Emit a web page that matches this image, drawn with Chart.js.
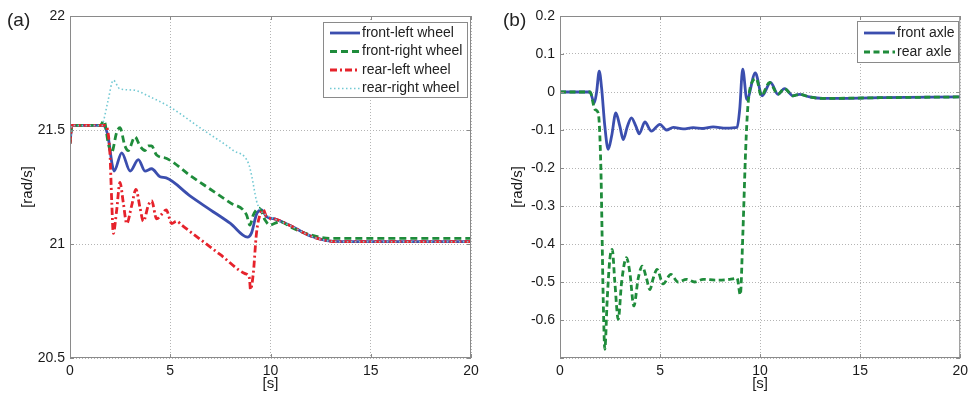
<!DOCTYPE html>
<html>
<head>
<meta charset="utf-8">
<script src="https://cdn.jsdelivr.net/npm/chart.js@4.4.0/dist/chart.umd.min.js"></script>
<style>
    html, body { margin: 0; padding: 0; background: #fff; }
    #wrap { position: relative; width: 973px; height: 393px; }
    .panel { position: absolute; top: 0; height: 393px; }
</style>
</head>
<body>
<div id="wrap">
    <div class="panel" style="left:0;width:490px"><canvas id="chartA" width="490" height="393"></canvas></div>
    <div class="panel" style="left:490px;width:483px"><canvas id="chartB" width="483" height="393"></canvas></div>
</div>
<script>
// Données
const xTicks = [0, 5, 10, 15, 20];
const yTicksA = [20.5, 21, 21.5, 22];
const yTicksB = [-0.7, -0.6, -0.5, -0.4, -0.3, -0.2, -0.1, 0, 0.1, 0.2];

// (a) vitesses des roues
const flTime = [0, 0.1, 1.65, 1.9, 2.1, 2.2, 2.58, 3.0, 3.41, 3.74, 4.07, 4.49, 4.8, 6.0, 7.0, 8.0, 8.85, 9.06, 9.3, 9.55, 9.8, 10.2, 11, 12, 12.8, 13.5, 20];
const flVals = [21.44, 21.52, 21.52, 21.47, 21.35, 21.32, 21.40, 21.32, 21.37, 21.32, 21.33, 21.295, 21.29, 21.21, 21.15, 21.09, 21.03, 21.05, 21.13, 21.15, 21.12, 21.11, 21.08, 21.035, 21.015, 21.01, 21.01];

const frTime = [0, 0.1, 1.5, 1.7, 1.91, 2.07, 2.33, 2.49, 2.74, 2.9, 3.24, 3.49, 3.74, 3.9, 4.07, 4.32, 4.82, 6.0, 7.0, 8.0, 8.81, 8.97, 9.14, 9.44, 9.73, 9.97, 10.47, 11.1, 12, 13, 20];
const frVals = [21.44, 21.52, 21.52, 21.54, 21.44, 21.40, 21.49, 21.51, 21.43, 21.41, 21.47, 21.43, 21.41, 21.43, 21.43, 21.39, 21.375, 21.30, 21.24, 21.18, 21.127, 21.083, 21.127, 21.157, 21.105, 21.083, 21.098, 21.07, 21.04, 21.025, 21.025];

const rlTime = [0, 0.1, 1.75, 1.99, 2.08, 2.16, 2.33, 2.49, 2.66, 2.83, 3.08, 3.29, 3.49, 3.66, 3.91, 4.07, 4.32, 4.57, 4.8, 5.07, 5.32, 5.57, 6.5, 7.5, 8.73, 8.95, 9.0, 9.14, 9.3, 9.48, 9.64, 9.8, 10.2, 11, 12, 12.8, 13.5, 20];
const rlVals = [21.44, 21.52, 21.52, 21.40, 21.19, 21.047, 21.15, 21.27, 21.18, 21.09, 21.17, 21.24, 21.16, 21.10, 21.17, 21.19, 21.11, 21.13, 21.15, 21.09, 21.10, 21.083, 21.02, 20.953, 20.87, 20.85, 20.80, 20.87, 21.047, 21.13, 21.15, 21.12, 21.11, 21.08, 21.035, 21.015, 21.01, 21.01];

const rrTime = [0, 0.1, 1.6, 1.66, 1.9, 2.16, 2.49, 3.16, 4.0, 5.0, 6.48, 8.15, 8.9, 9.06, 9.3, 9.48, 9.73, 10.2, 11, 12, 12.8, 13.5, 20];
const rrVals = [21.44, 21.52, 21.52, 21.535, 21.63, 21.718, 21.68, 21.675, 21.645, 21.60, 21.51, 21.41, 21.354, 21.30, 21.19, 21.15, 21.13, 21.11, 21.08, 21.035, 21.015, 21.01, 21.01];

// (b) essieux
const faTime = [0, 1.5, 1.71, 1.83, 1.96, 2.08, 2.24, 2.41, 2.58, 2.79, 2.99, 3.16, 3.37, 3.57, 3.79, 3.96, 4.24, 4.57, 4.99, 5.32, 5.66, 6.15, 6.65, 7.15, 7.65, 8.31, 8.85, 8.98, 9.13, 9.34, 9.76, 10.1, 10.52, 10.89, 11.22, 11.64, 11.97, 12.47, 13.13, 16, 20];
const faVals = [0, 0, -0.029, 0, 0.055, 0.01, -0.09, -0.151, -0.116, -0.055, -0.09, -0.125, -0.09, -0.068, -0.09, -0.11, -0.079, -0.103, -0.085, -0.1, -0.093, -0.097, -0.094, -0.096, -0.092, -0.095, -0.093, -0.046, 0.06, -0.02, 0.05, -0.01, 0.025, -0.006, 0.009, -0.01, -0.006, -0.013, -0.017, -0.015, -0.013];

const raTime = [0, 1.5, 1.75, 1.91, 2.04, 2.16, 2.24, 2.36, 2.49, 2.61, 2.74, 2.91, 3.08, 3.32, 3.49, 3.69, 3.91, 4.11, 4.32, 4.49, 4.66, 4.85, 5.15, 5.54, 5.9, 6.32, 6.73, 7.15, 7.81, 8.48, 8.85, 9.01, 9.14, 9.28, 9.39, 9.64, 9.81, 10.06, 10.47, 10.89, 11.22, 11.64, 11.97, 12.47, 13.13, 16, 20];
const raVals = [0, 0, -0.046, -0.055, -0.195, -0.545, -0.677, -0.545, -0.44, -0.414, -0.5, -0.598, -0.5, -0.436, -0.475, -0.563, -0.49, -0.458, -0.49, -0.52, -0.49, -0.467, -0.505, -0.48, -0.5, -0.493, -0.5, -0.493, -0.495, -0.493, -0.49, -0.534, -0.37, -0.15, -0.037, 0.03, 0.035, -0.01, 0.025, -0.006, 0.009, -0.01, -0.006, -0.013, -0.017, -0.015, -0.013];

const FONT = '"Liberation Sans", Arial, Helvetica, sans-serif';
const BLUE = '#3b4eae';
const GREEN = '#1f8c3b';
const RED = '#e6222b';
const CYAN = '#72c9d3';

function toPoints(times, vals) {
    return times.map((t, i) => ({ x: t, y: vals[i] }));
}

function fmt(v) {
    return String(parseFloat(v.toFixed(2)));
}

// Cadre, petites graduations, légende et étiquette du panneau
const framePlugin = {
    id: 'frame',
    afterDatasetsDraw(chart, args, opts) {
        const { ctx, chartArea: a, scales } = chart;
        ctx.save();
        ctx.strokeStyle = '#8a8a8a';
        ctx.lineWidth = 1;
        ctx.setLineDash([]);
        ctx.strokeRect(a.left + 0.5, a.top + 0.5, a.right - a.left - 1, a.bottom - a.top - 1);
        ctx.beginPath();
        scales.x.ticks.forEach(t => {
            const px = Math.round(scales.x.getPixelForValue(t.value)) + 0.5;
            ctx.moveTo(px, a.bottom); ctx.lineTo(px, a.bottom - 4);
            ctx.moveTo(px, a.top); ctx.lineTo(px, a.top + 4);
        });
        scales.y.ticks.forEach(t => {
            const py = Math.round(scales.y.getPixelForValue(t.value)) + 0.5;
            ctx.moveTo(a.left, py); ctx.lineTo(a.left + 4, py);
            ctx.moveTo(a.right, py); ctx.lineTo(a.right - 4, py);
        });
        ctx.stroke();

        // légende
        const L = opts.legend;
        ctx.fillStyle = '#fff';
        ctx.fillRect(L.left, L.top, L.width, L.height);
        ctx.strokeStyle = '#8a8a8a';
        ctx.strokeRect(L.left + 0.5, L.top + 0.5, L.width - 1, L.height - 1);
        ctx.font = '14px ' + FONT;
        ctx.textBaseline = 'middle';
        ctx.textAlign = 'left';
        chart.data.datasets.forEach((ds, i) => {
            const y = L.top + L.firstRow + i * L.rowH;
            ctx.strokeStyle = ds.borderColor;
            ctx.lineWidth = ds.borderWidth;
            ctx.setLineDash(ds.borderDash || []);
            ctx.beginPath();
            ctx.moveTo(L.left + 7, y);
            ctx.lineTo(L.left + 7 + L.sample, y);
            ctx.stroke();
            ctx.fillStyle = '#222';
            ctx.fillText(ds.label, L.left + 9 + L.sample, y);
        });

        // étiquette (a)/(b)
        ctx.font = '19px ' + FONT;
        ctx.fillStyle = '#222';
        ctx.textBaseline = 'middle';
        ctx.fillText(opts.tag, opts.tagX, 21);
        ctx.restore();
    }
};

function axisOptions(yMin, yMax, hideMin) {
    return {
        x: {
            type: 'linear',
            min: 0, max: 20,
            afterFit: s => { s.height = 35; },
            afterBuildTicks: s => { s.ticks = xTicks.map(v => ({ value: v })); },
            grid: { color: '#b4b4b4', lineWidth: 1, drawTicks: false },
            border: { display: false, dash: [1, 2] },
            ticks: { color: '#1a1a1a', font: { family: FONT, size: 14 }, padding: 5, maxRotation: 0, autoSkip: false, callback: v => fmt(v) },
            title: { display: true, text: '[s]', color: '#1a1a1a', font: { family: FONT, size: 15 }, padding: { top: 0, bottom: 0 } }
        },
        y: {
            type: 'linear',
            min: yMin, max: yMax,
            afterFit: s => { s.width = 70; },
            grid: { color: '#b4b4b4', lineWidth: 1, drawTicks: false },
            border: { display: false, dash: [1, 2] },
            ticks: {
                color: '#1a1a1a', font: { family: FONT, size: 14 }, padding: 5, autoSkip: false,
                callback: v => (hideMin && Math.abs(v - yMin) < 1e-6) ? '' : fmt(v)
            },
            title: { display: true, text: '[rad/s]', color: '#1a1a1a', font: { family: FONT, size: 15 }, padding: { top: 19, bottom: 0 } }
        }
    };
}

function lineDs(label, times, vals, color, width, dash, order) {
    return {
        label: label,
        data: toPoints(times, vals),
        borderColor: color,
        backgroundColor: color,
        borderWidth: width,
        borderDash: dash,
        pointRadius: 0,
        cubicInterpolationMode: 'monotone',
        fill: false,
        order: order
    };
}

const baseOptions = {
    responsive: false,
    animation: false,
    events: [],
    plugins: { legend: { display: false }, tooltip: { enabled: false } }
};

const chartA = new Chart(document.getElementById('chartA').getContext('2d'), {
    type: 'line',
    data: {
        datasets: [
            lineDs('front-left wheel', flTime, flVals, BLUE, 2.8, [], 4),
            lineDs('front-right wheel', frTime, frVals, GREEN, 2.8, [7, 4], 3),
            lineDs('rear-left wheel', rlTime, rlVals, RED, 2.8, [7, 3, 2, 3], 2),
            lineDs('rear-right wheel', rrTime, rrVals, CYAN, 1.6, [1.5, 2.5], 1)
        ]
    },
    options: {
        ...baseOptions,
        layout: { padding: { left: 0, top: 16, right: 19, bottom: 0 } },
        scales: (() => {
            const s = axisOptions(20.5, 22, false);
            s.y.afterBuildTicks = sc => { sc.ticks = yTicksA.map(v => ({ value: v })); };
            return s;
        })(),
        plugins: {
            ...baseOptions.plugins,
            frame: {
                tag: '(a)', tagX: 7,
                legend: { left: 323, top: 22, width: 145, height: 76, firstRow: 11, rowH: 18.5, sample: 30 }
            }
        }
    },
    plugins: [framePlugin]
});

const chartB = new Chart(document.getElementById('chartB').getContext('2d'), {
    type: 'line',
    data: {
        datasets: [
            lineDs('front axle', faTime, faVals, BLUE, 2.8, [], 2),
            lineDs('rear axle', raTime, raVals, GREEN, 2.8, [6, 3.5], 1)
        ]
    },
    options: {
        ...baseOptions,
        layout: { padding: { left: 0, top: 16, right: 12, bottom: 0 } },
        scales: (() => {
            const s = axisOptions(-0.7, 0.2, true);
            s.y.afterBuildTicks = sc => { sc.ticks = yTicksB.map(v => ({ value: v })); };
            return s;
        })(),
        plugins: {
            ...baseOptions.plugins,
            frame: {
                tag: '(b)', tagX: 13,
                legend: { left: 367, top: 21, width: 102, height: 42, firstRow: 12, rowH: 19, sample: 31 }
            }
        }
    },
    plugins: [framePlugin]
});
</script>
</body>
</html>
